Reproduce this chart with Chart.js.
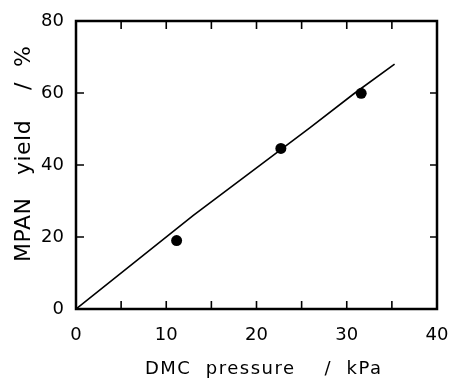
<!DOCTYPE html>
<html>
<head>
<meta charset="utf-8">
<script src="https://cdn.jsdelivr.net/npm/chart.js@4"></script>
<style>
  html, body { margin: 0; padding: 0; background: #fff; }
  #wrap { width: 449px; height: 378px; }
</style>
</head>
<body>
<div id="wrap"><canvas id="c" width="449" height="378"></canvas></div>
<script>
// Measured points
const pressureKPa = [11.15, 22.7, 31.6];
const yieldPct    = [19.0, 44.6, 59.9];
// Fitted line (as drawn)
const lineX = [0, 13, 25.9, 30.9, 35.3];
const lineY = [0, 26, 50.3, 60, 68];
// Axes
const xTicks = [0, 10, 20, 30, 40];
const xMinorTicks = [5, 10, 15, 20, 25, 30, 35];
const yTicks = [0, 20, 40, 60, 80];
const yInnerTicks = [20, 40, 60];

const FONT = "'DejaVu Sans', sans-serif";

const framePlugin = {
  id: 'frame',
  afterUpdate(chart) {
    const patch = (scale, spacing) => {
      if (!scale || scale._lsPatched) return;
      const orig = scale.drawTitle;
      scale.drawTitle = function () {
        const ctx = this.ctx;
        const prev = ctx.letterSpacing;
        ctx.letterSpacing = spacing;
        orig.apply(this, arguments);
        ctx.letterSpacing = prev || '0px';
      };
      scale._lsPatched = true;
    };
    patch(chart.scales.x, '1.5px');
    patch(chart.scales.y, '0.5px');
  },
  afterDraw(chart) {
    const {ctx, chartArea: a, scales: {x, y}} = chart;
    ctx.save();
    ctx.strokeStyle = '#000';
    ctx.lineWidth = 1.6;
    xMinorTicks.forEach(v => {
      const px = x.getPixelForValue(v);
      ctx.beginPath();
      ctx.moveTo(px, a.bottom); ctx.lineTo(px, a.bottom - 8);
      ctx.moveTo(px, a.top); ctx.lineTo(px, a.top + 8);
      ctx.stroke();
    });
    yInnerTicks.forEach(v => {
      const py = y.getPixelForValue(v);
      ctx.beginPath();
      ctx.moveTo(a.left, py); ctx.lineTo(a.left + 8, py);
      ctx.moveTo(a.right, py); ctx.lineTo(a.right - 7, py);
      ctx.stroke();
    });
    ctx.lineWidth = 2.5;
    ctx.strokeRect(a.left, a.top, a.right - a.left, a.bottom - a.top);
    ctx.restore();
  }
};

new Chart(document.getElementById('c'), {
  type: 'scatter',
  data: {
    datasets: [
      {
        data: lineX.map((v, i) => ({x: v, y: lineY[i]})),
        showLine: true,
        borderColor: '#000',
        borderWidth: 1.6,
        pointRadius: 0,
        tension: 0
      },
      {
        data: pressureKPa.map((v, i) => ({x: v, y: yieldPct[i]})),
        showLine: false,
        pointRadius: 5.5,
        backgroundColor: '#000',
        borderColor: '#000',
        borderWidth: 0
      }
    ]
  },
  plugins: [framePlugin],
  options: {
    responsive: false,
    animation: false,
    events: [],
    layout: { padding: { top: 21, right: 12, left: 0, bottom: 0 } },
    plugins: { legend: { display: false }, tooltip: { enabled: false } },
    scales: {
      x: {
        type: 'linear',
        min: 0, max: 40,
        afterBuildTicks: s => { s.ticks = xTicks.map(v => ({value: v})); },
        afterFit: s => { s.height = 69; s.paddingLeft = 0; s.paddingRight = 0; },
        grid: { display: false, drawTicks: false },
        border: { display: false },
        ticks: { color: '#000', font: { family: FONT, size: 18 }, padding: 16, maxRotation: 0 },
        title: {
          display: true,
          text: '  DMC  pressure    /  kPa',
          color: '#000',
          font: { family: FONT, size: 18, lineHeight: 1 },
          padding: { top: 0, bottom: 0 }
        }
      },
      y: {
        type: 'linear',
        min: 0, max: 80,
        afterBuildTicks: s => { s.ticks = yTicks.map(v => ({value: v})); },
        afterFit: s => { s.width = 76; s.paddingTop = 0; s.paddingBottom = 0; },
        grid: { display: false, drawTicks: false },
        border: { display: false },
        ticks: { color: '#000', font: { family: FONT, size: 18 }, padding: 12 },
        title: {
          display: true,
          text: '   MPAN   yield    /  %',
          color: '#000',
          font: { family: FONT, size: 22, lineHeight: 1 },
          padding: { top: 13, bottom: 0 }
        }
      }
    }
  }
});
</script>
</body>
</html>
